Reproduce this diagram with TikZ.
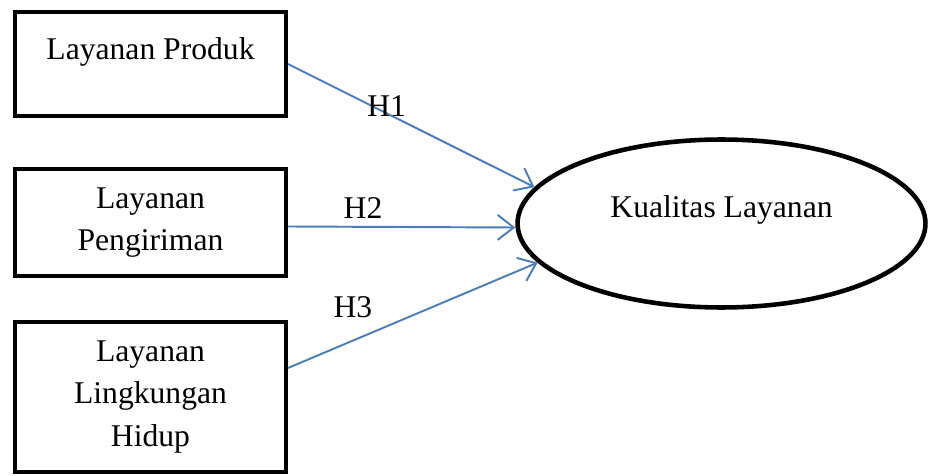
\documentclass[tikz,border=0pt]{standalone}
\usepackage{fontspec}
\setmainfont{Liberation Serif}
\usetikzlibrary{shapes.geometric,arrows.meta}
\definecolor{linkblue}{RGB}{74,126,187}

\begin{document}
\begin{tikzpicture}[x=0.02cm, y=-0.02cm,
    box/.style={draw=black, line width=2.3pt, rectangle, minimum width=5.42cm,
      align=center, font=\fontsize{18}{24}\selectfont},
    link/.style={draw=linkblue, line width=1.1pt,
      -{Straight Barb[length=0.32cm, width=0.5cm]}},
    hyp/.style={font=\fontsize{18}{24}\selectfont, inner sep=0pt}]
  \useasboundingbox (0,0) rectangle (929,476);

  \node[box, minimum height=2.08cm, text depth=0.61cm] (produk) at (150.5,64) {Layanan Produk};
  \node[box, minimum height=2.14cm] (kirim) at (150.5,222.5) {Layanan\\Pengiriman};
  \node[box, minimum height=3.0cm] (hidup) at (150.5,397) {Layanan\\Lingkungan\\Hidup};

  \node[ellipse, draw=black, line width=2.6pt, minimum width=8.16cm, minimum height=3.36cm,
    inner sep=0pt, text depth=0.67cm, font=\fontsize{18}{24}\selectfont]
    (kualitas) at (721.5,223.5) {Kualitas Layanan};

  \draw[link] (produk.east) -- (kualitas.169)
    node[hyp, pos=0.4, yshift=0.15cm] (h1) {H1};
  \draw[link] ([yshift=-0.08cm]kirim.east) -- ([yshift=-0.08cm]kualitas.west)
    node[hyp, pos=0.33, yshift=0.38cm] (h2) {H2};
  \draw[link] ([yshift=0.58cm]hidup.east) -- (kualitas.192)
    node[hyp, pos=0.26, yshift=0.66cm] (h3) {H3};
\end{tikzpicture}
\end{document}
